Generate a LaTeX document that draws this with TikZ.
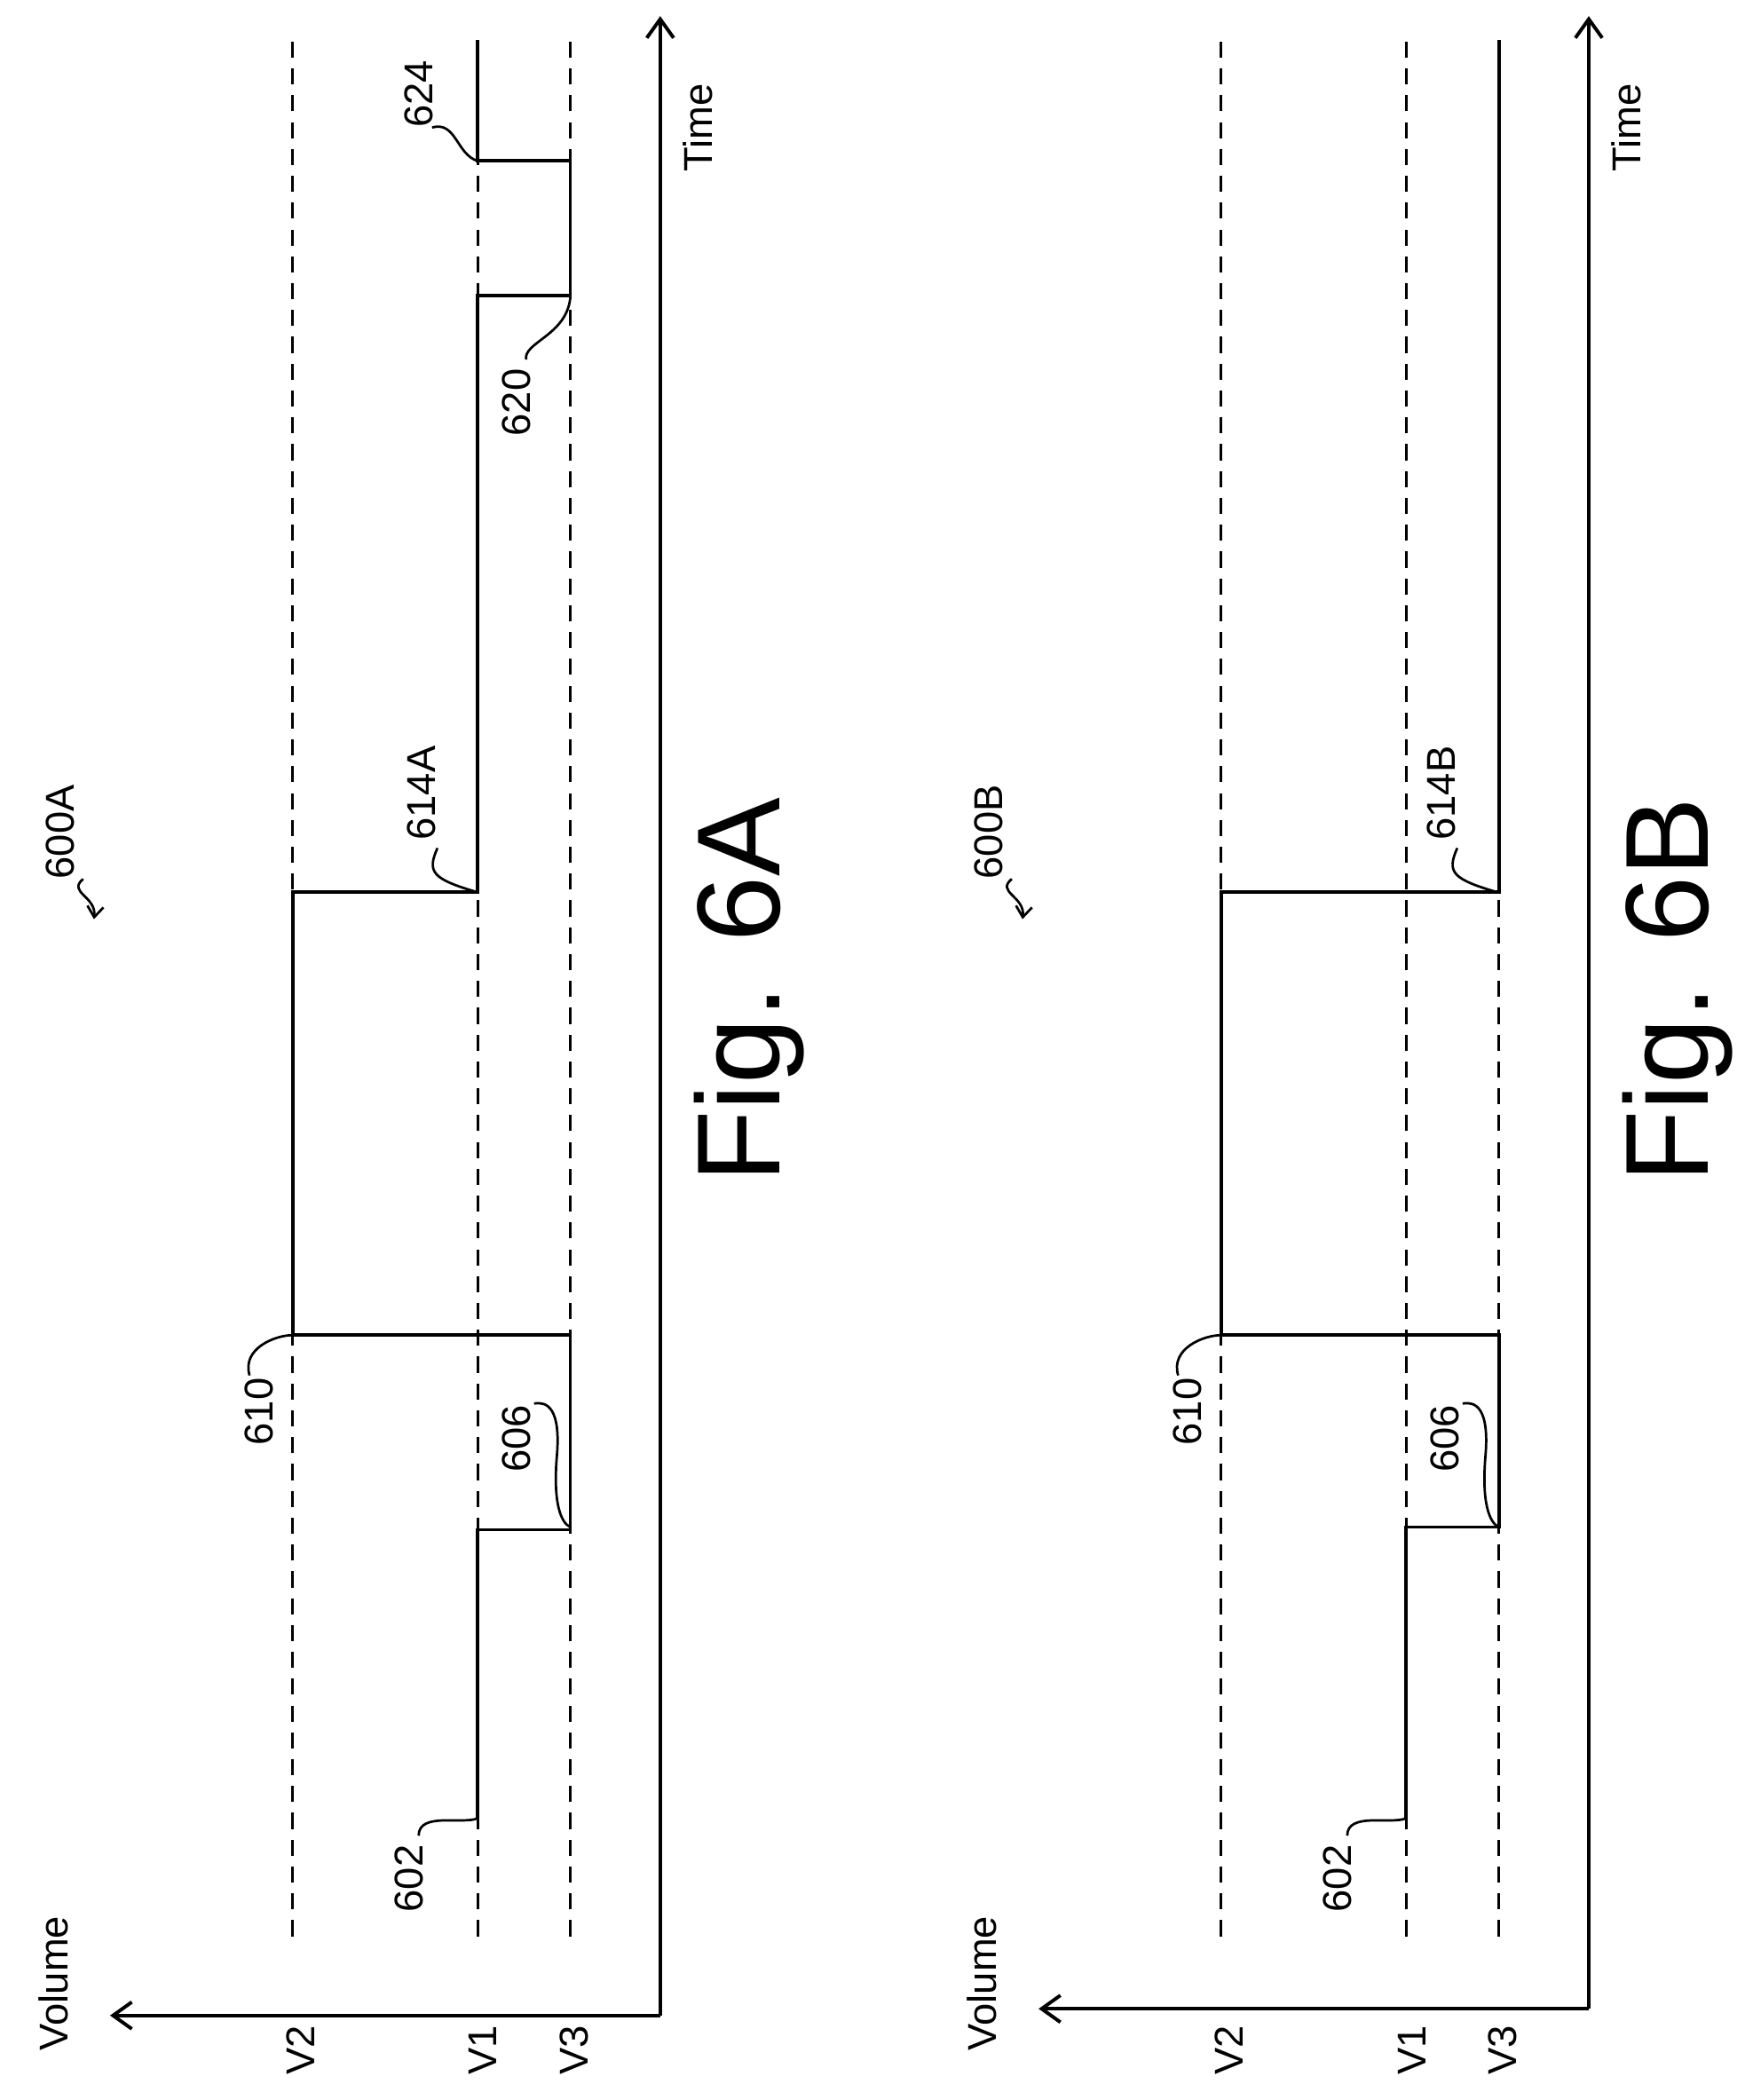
\documentclass[tikz,border=0pt]{standalone}
\usepackage{fontspec}
\setmainfont{Liberation Sans}
\usetikzlibrary{arrows.meta}
\begin{document}
\begin{tikzpicture}[x=0.5pt,y=-0.5pt,
  sig/.style={line width=1.3pt},
  dashln/.style={dash pattern=on 6pt off 4pt,line width=0.9pt},
  ax/.style={line width=1.3pt,-{Straight Barb[length=7pt,width=10pt]}},
  lbl/.style={rotate=90,font=\fontsize{15}{18}\selectfont,inner sep=1pt},
  lead/.style={line width=0.9pt},
  fig/.style={rotate=90,font=\fontsize{44}{50}\selectfont}]
\useasboundingbox (0,0) rectangle (1300,1565);
\foreach \o/\s/\vy in {0/A/1502,692/B/1497}{
\begin{scope}[xshift=\o*0.5pt]
  \coordinate (o\s) at (492,\vy);
  \coordinate (t\s) at (492,12);
  \coordinate (v\s) at (82,\vy);
  \draw[ax] (o\s) -- (t\s);
  \draw[ax] (o\s) -- (v\s);
  \foreach \x in {218,356,425}{\draw[dashln] (\x,1443) -- (\x,30);}
  \node[lbl] (vol\s) at (40,1478) {Volume};
  \node[lbl] (tim\s) at (520,95) {Time};
  \node[lbl] (V2\s) at (224,1528) {V2};
  \node[lbl] (V1\s) at (360,1528) {V1};
  \node[lbl] (V3\s) at (428,1528) {V3};
  \node[fig] (F\s) at (558,738) {Fig. 6\s};
  \node[lbl] (n602\s) at (305,1400) {602};
  \node[lbl] (n606\s) at (385,1072) {606};
  \node[lbl] (n610\s) at (193,1052) {610};
  \node[lbl] (n600\s) at (45,620) {600\s};
  \coordinate (p602\s) at (356,1355);
  \coordinate (p606\s) at (425,1138);
  \coordinate (p610\s) at (218,995);
  \coordinate (s602\s) at (312,1368);
  \coordinate (s606\s) at (398,1046);
  \coordinate (s610\s) at (186,1025);
  \draw[lead] (s602\s) .. controls (312,1350) and (345,1360) .. (p602\s);
  \draw[lead] (s606\s) .. controls (408,1044) and (418,1050) .. (415,1085) .. controls (412,1120) and (418,1135) .. (p606\s);
  \draw[lead] (s610\s) .. controls (180,1005) and (205,995) .. (p610\s);
  \draw[lead,-{Straight Barb[length=4pt,width=6pt]}] (62,655) .. controls (50,665) and (72,668) .. (70,685);
\end{scope}}
% 6A signal
\draw[sig] (356,1355) -- (356,1140) -- (425,1140) -- (425,995) -- (218,995) -- (218,665) -- (356,665) -- (356,220) -- (425,220) -- (425,120) -- (356,120) -- (356,30);
\node[lbl] (n614A) at (314,591) {614A};
\coordinate (s614A) at (326,632);
\draw[lead] (s614A) .. controls (318,650) and (322,655) .. (356,665);
\node[lbl] (n620A) at (385,300) {620};
\coordinate (s620A) at (392,268);
\draw[lead] (s620A) .. controls (390,255) and (422,250) .. (425,222);
\node[lbl] (n624A) at (312,70) {624};
\coordinate (s624A) at (322,95);
\draw[lead] (s624A) .. controls (340,90) and (340,115) .. (356,120);
% 6B signal
\draw[sig] (1048,1355) -- (1048,1138) -- (1117,1138) -- (1117,995) -- (910,995) -- (910,665) -- (1117,665) -- (1117,30);
\node[lbl] (n614B) at (1074,591) {614B};
\coordinate (s614B) at (1086,632);
\draw[lead] (s614B) .. controls (1078,650) and (1082,655) .. (1116,665);
\end{tikzpicture}
\end{document}
